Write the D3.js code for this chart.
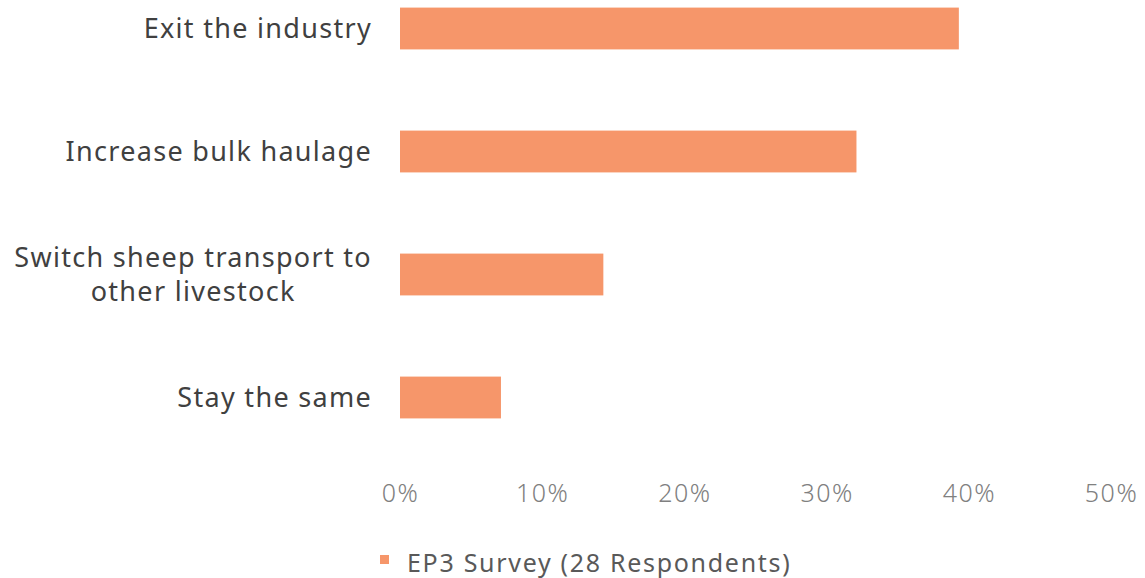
<!DOCTYPE html>
<html>
<head>
<meta charset="utf-8">
<script src="https://cdn.jsdelivr.net/npm/d3@7"></script>
<style>
  body { margin: 0; background: #fff; }
  svg { display: block; }
</style>
</head>
<body>
<div id="chart"></div>
<script>
var categories = ["Exit the industry", "Increase bulk haulage", "Switch sheep transport to|other livestock", "Stay the same"];
var values = [39.3, 32.1, 14.3, 7.1];
var tick_values = [0, 10, 20, 30, 40, 50];
var series_name = "EP3 Survey (28 Respondents)";

var bar_color = "#F6966A";
var font = "'Noto Sans', 'Open Sans', sans-serif";

var svg = d3.select("#chart")
  .append("svg")
  .attr("width", 1145)
  .attr("height", 578);

var x = d3.scaleLinear()
  .domain([0, 50])
  .range([400, 1111]);

var y = d3.scaleBand()
  .domain(categories)
  .range([-33, 459])
  .paddingInner(0.66)
  .paddingOuter(0.33);

//Bars
svg.selectAll("rect.bar")
  .data(values)
  .enter()
  .append("rect")
  .attr("class", "bar")
  .attr("x", x(0))
  .attr("y", function(d, i){ return y(categories[i]); })
  .attr("width", function(d){ return x(d) - x(0); })
  .attr("height", y.bandwidth())
  .attr("fill", bar_color);

//Category labels, multi-line ones are centred inside their block
var label_right = 372;
var labels = svg.append("g")
  .attr("font-family", font)
  .attr("font-size", 27)
  .attr("letter-spacing", 1.3)
  .attr("fill", "#404040");

categories.forEach(function(c){
  var lines = c.split("|");
  var cy = y(c) + y.bandwidth() / 2;
  var texts = lines.map(function(line, k){
    return labels.append("text")
      .attr("y", cy + (k - (lines.length - 1) / 2) * 34)
      .attr("dy", "0.35em")
      .text(line);
  });
  var widths = texts.map(function(t){ return t.node().getComputedTextLength(); });
  var block = d3.max(widths);
  texts.forEach(function(t){
    t.attr("x", label_right - block / 2).attr("text-anchor", "middle");
  });
});

//X axis (labels only)
var x_axis = d3.axisBottom(x)
  .tickValues(tick_values)
  .tickSize(0)
  .tickPadding(0)
  .tickFormat(function(d){ return d + "%"; });

var ax = svg.append("g")
  .attr("transform", "translate(0, 484)")
  .call(x_axis);
ax.select(".domain").remove();
ax.selectAll("text")
  .attr("font-family", font)
  .attr("font-size", 25)
  .attr("font-weight", 300)
  .attr("letter-spacing", 1.5)
  .attr("fill", "#808080");

//Legend
var lg = svg.append("g").attr("transform", "translate(380, 563)");
lg.append("rect")
  .attr("x", 0)
  .attr("y", -8)
  .attr("width", 9)
  .attr("height", 9)
  .attr("fill", bar_color);
lg.append("text")
  .attr("x", 27)
  .attr("y", 0)
  .attr("dy", "0.35em")
  .attr("font-family", font)
  .attr("font-size", 25)
  .attr("letter-spacing", 1.7)
  .attr("fill", "#595959")
  .text(series_name);
</script>
</body>
</html>
